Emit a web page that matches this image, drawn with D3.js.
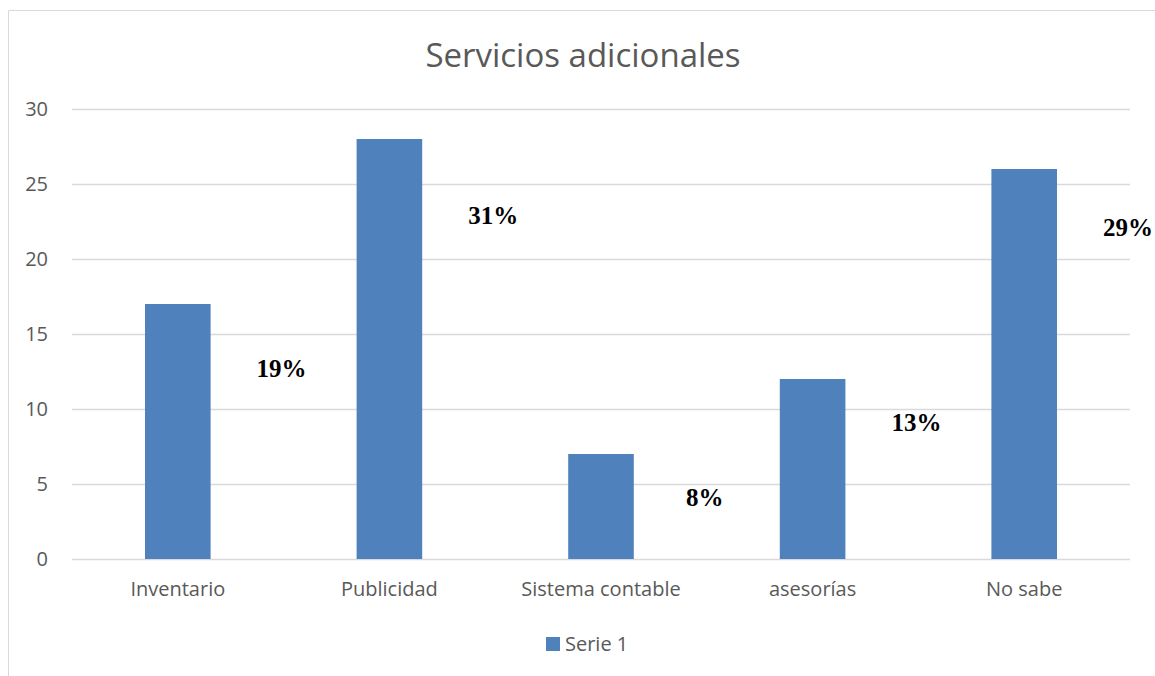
<!DOCTYPE html>
<html>
<head>
<meta charset="utf-8">
<script src="https://cdn.jsdelivr.net/npm/d3@7"></script>
<style>
  html, body { margin: 0; padding: 0; background: #fff; }
  svg { display: block; }
</style>
</head>
<body>
<svg id="chart" width="1155" height="676"></svg>
<script>
// Bar chart data
const categories = ["Inventario", "Publicidad", "Sistema contable", "asesorías", "No sabe"];
const values = [17, 28, 7, 12, 26];
const yTicks = [0, 5, 10, 15, 20, 25, 30];
// Vertical level (in axis units) where each percentage label sits
const labelLevels = [12.7, 22.9, 4.1, 9.1, 22.1];
const seriesName = "Serie 1";
const title = "Servicios adicionales";

const total = d3.sum(values);
const percents = values.map(v => Math.round(v / total * 100) + "%");

const svg = d3.select("#chart");
const W = 1155, H = 676;
const margin = { left: 72, right: 25, top: 109, bottom: 117 };
const font = "'Open Sans', sans-serif";
const textGray = "#595959";

// Chart-area border
svg.append("line").attr("x1", 8.5).attr("x2", W).attr("y1", 10.5).attr("y2", 10.5)
  .attr("stroke", "#d9d9d9").attr("stroke-width", 1);
svg.append("line").attr("x1", 8.5).attr("x2", 8.5).attr("y1", 10.5).attr("y2", H)
  .attr("stroke", "#d9d9d9").attr("stroke-width", 1);

const x = d3.scaleBand().domain(categories)
  .range([margin.left, W - margin.right]).paddingInner(0.69).paddingOuter(0.345);
const y = d3.scaleLinear().domain([0, 30]).range([H - margin.bottom, margin.top]);

// Gridlines
svg.append("g").selectAll("line").data(yTicks).join("line")
  .attr("x1", margin.left).attr("x2", W - margin.right)
  .attr("y1", d => Math.round(y(d)) + 0.5).attr("y2", d => Math.round(y(d)) + 0.5)
  .attr("stroke", "#d9d9d9").attr("stroke-width", 1.5);

// Y axis labels
const yAxis = d3.axisLeft(y).tickValues(yTicks).tickSize(0).tickPadding(0);
const gy = svg.append("g").attr("transform", `translate(${48},0)`).call(yAxis);
gy.select(".domain").remove();
gy.selectAll("text").attr("font-family", font)
  .attr("font-size", 20).attr("fill", textGray);

// Bars
svg.append("g").selectAll("rect").data(values).join("rect")
  .attr("x", (d, i) => x(categories[i]))
  .attr("y", d => y(d))
  .attr("width", x.bandwidth())
  .attr("height", d => y(0) - y(d))
  .attr("fill", "#4f81bd");

// X axis labels
const xAxis = d3.axisBottom(x).tickSize(0).tickPadding(0);
const gx = svg.append("g").attr("transform", `translate(0,${589})`).call(xAxis);
gx.select(".domain").remove();
gx.selectAll("text").attr("dy", "0.35em").attr("font-family", font)
  .attr("font-size", 20).attr("fill", textGray);

// Percentage labels, placed at the right edge of each band
svg.append("g").selectAll("text").data(percents).join("text")
  .attr("x", (d, i) => x(categories[i]) + x.bandwidth() / 2 + x.step() / 2 - 2)
  .attr("y", (d, i) => y(labelLevels[i]))
  .attr("dy", "0.35em")
  .attr("text-anchor", "middle")
  .attr("font-family", "'Liberation Serif', 'Times New Roman', serif")
  .attr("font-weight", "bold")
  .attr("font-size", 25)
  .attr("fill", "#000")
  .text(d => d);

// Title
svg.append("text").attr("x", 583).attr("y", 55).attr("dy", "0.35em")
  .attr("text-anchor", "middle")
  .attr("font-family", font)
  .attr("font-size", 33).attr("fill", textGray)
  .text(title);

// Legend
const lg = svg.append("g").attr("transform", "translate(546,637)");
lg.append("rect").attr("width", 14).attr("height", 14).attr("fill", "#4f81bd");
lg.append("text").attr("x", 19).attr("y", 7).attr("dy", "0.35em")
  .attr("font-family", font)
  .attr("font-size", 20).attr("fill", textGray)
  .text(seriesName);
</script>
</body>
</html>
